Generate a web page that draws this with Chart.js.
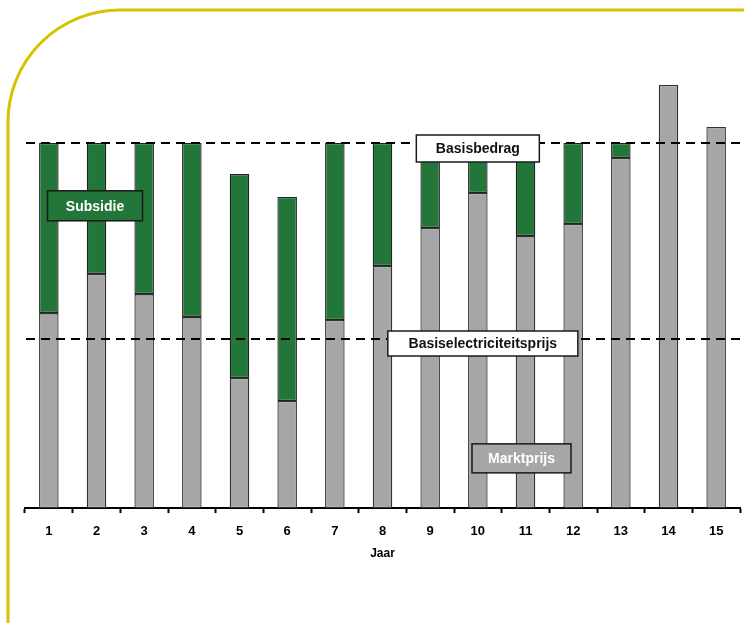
<!DOCTYPE html>
<html>
<head>
<meta charset="utf-8">
<script src="https://cdn.jsdelivr.net/npm/chart.js@4.4.1/dist/chart.umd.min.js"></script>
<style>
    body { margin: 0; background: #fff; }
    #wrap { width: 744px; height: 623px; position: relative; }
</style>
</head>
<body>
<div id="wrap"><canvas id="mainChart"></canvas></div>
<script>
// Data (Basisbedrag = 100)
const categories = ['1', '2', '3', '4', '5', '6', '7', '8', '9', '10', '11', '12', '13', '14', '15'];
const marktprijs = [53.4, 64.1, 58.6, 52.3, 35.6, 29.3, 51.5, 66.3, 76.7, 86.3, 74.5, 77.8, 95.9, 115.9, 104.4];
const subsidie = [46.6, 35.9, 41.4, 47.7, 55.9, 55.9, 48.5, 33.7, 23.3, 13.7, 25.5, 22.2, 4.1, 0, 0];
const basisbedrag = 100;
const basiselectriciteitsprijs = 46.3;

const GREEN = '#22763a';
const GREY = '#a6a6a6';
const YELLOW = '#d4c400';
const FONT = '"Liberation Sans", Arial, sans-serif';

// Yellow rounded frame behind the chart
const framePlugin = {
    id: 'frame',
    beforeDraw(chart) {
        const ctx = chart.ctx;
        const r = 112;
        ctx.save();
        ctx.strokeStyle = YELLOW;
        ctx.lineWidth = 3;
        ctx.beginPath();
        ctx.moveTo(8, chart.height + 5);
        ctx.lineTo(8, 10 + r);
        ctx.arcTo(8, 10, 8 + r, 10, r);
        ctx.lineTo(chart.width + 5, 10);
        ctx.stroke();
        ctx.restore();
    }
};

// Dashed reference lines and the text boxes
const linesPlugin = {
    id: 'refLines',
    afterDatasetsDraw(chart) {
        const ctx = chart.ctx;
        const x = chart.scales.x;
        const y = chart.scales.y;
        ctx.save();
        ctx.strokeStyle = '#000';
        ctx.lineWidth = 2;
        ctx.setLineDash([9, 6]);
        [basisbedrag, basiselectriciteitsprijs].forEach(v => {
            const py = y.getPixelForValue(v);
            ctx.beginPath();
            ctx.moveTo(chart.chartArea.left + 1, py);
            ctx.lineTo(chart.width, py);
            ctx.stroke();
        });
        ctx.setLineDash([]);

        function box(text, cx, cy, w, h, fill, color) {
            ctx.fillStyle = fill;
            ctx.fillRect(cx - w / 2, cy - h / 2, w, h);
            ctx.strokeStyle = '#1a1a1a';
            ctx.lineWidth = 1.5;
            ctx.strokeRect(cx - w / 2, cy - h / 2, w, h);
            ctx.fillStyle = color;
            ctx.font = 'bold 14px ' + FONT;
            ctx.textAlign = 'center';
            ctx.textBaseline = 'middle';
            ctx.fillText(text, cx, cy + 1);
        }

        box('Basisbedrag', x.getPixelForValue(9), y.getPixelForValue(basisbedrag) + 5.5, 123, 27, '#fff', '#111');
        box('Basiselectriciteitsprijs', x.getPixelForValue(9) + 5, y.getPixelForValue(basiselectriciteitsprijs) + 4.5, 190, 25, '#fff', '#111');
        box('Marktprijs', x.getPixelForValue(10) - 4, y.getPixelForValue(13.6), 99, 29, GREY, '#fff');
        box('Subsidie', x.getPixelForValue(1) - 1.5, y.getPixelForValue(82.8), 95, 30, GREEN, '#fff');
        ctx.restore();
    }
};

new Chart(document.getElementById('mainChart').getContext('2d'), {
    type: 'bar',
    data: {
        labels: categories,
        datasets: [
            {
                label: 'Marktprijs',
                data: marktprijs,
                backgroundColor: GREY,
                borderColor: '#333',
                borderWidth: 1.3,
                borderSkipped: false,
                categoryPercentage: 1,
                barPercentage: 0.41
            },
            {
                label: 'Subsidie',
                data: subsidie,
                backgroundColor: GREEN,
                borderColor: '#222',
                borderWidth: 1.3,
                borderSkipped: false,
                categoryPercentage: 1,
                barPercentage: 0.41
            }
        ]
    },
    options: {
        responsive: true,
        maintainAspectRatio: false,
        animation: false,
        layout: { padding: { left: 25, right: 4, top: 33.5, bottom: 58 } },
        plugins: {
            legend: { display: false },
            tooltip: { enabled: false }
        },
        scales: {
            x: {
                stacked: true,
                grid: {
                    offset: true,
                    drawOnChartArea: false,
                    drawTicks: true,
                    tickLength: 5,
                    tickWidth: 2,
                    color: '#000'
                },
                border: { display: true, color: '#000', width: 2 },
                ticks: {
                    color: '#000',
                    padding: 11,
                    font: { family: FONT, size: 13, weight: 'bold' }
                },
                title: {
                    display: true,
                    text: 'Jaar',
                    color: '#000',
                    padding: { top: -4, bottom: 4 },
                    font: { family: FONT, size: 12, weight: 'bold' }
                }
            },
            y: {
                stacked: true,
                display: false,
                min: 0,
                max: 130
            }
        }
    },
    plugins: [framePlugin, linesPlugin]
});
</script>
</body>
</html>
